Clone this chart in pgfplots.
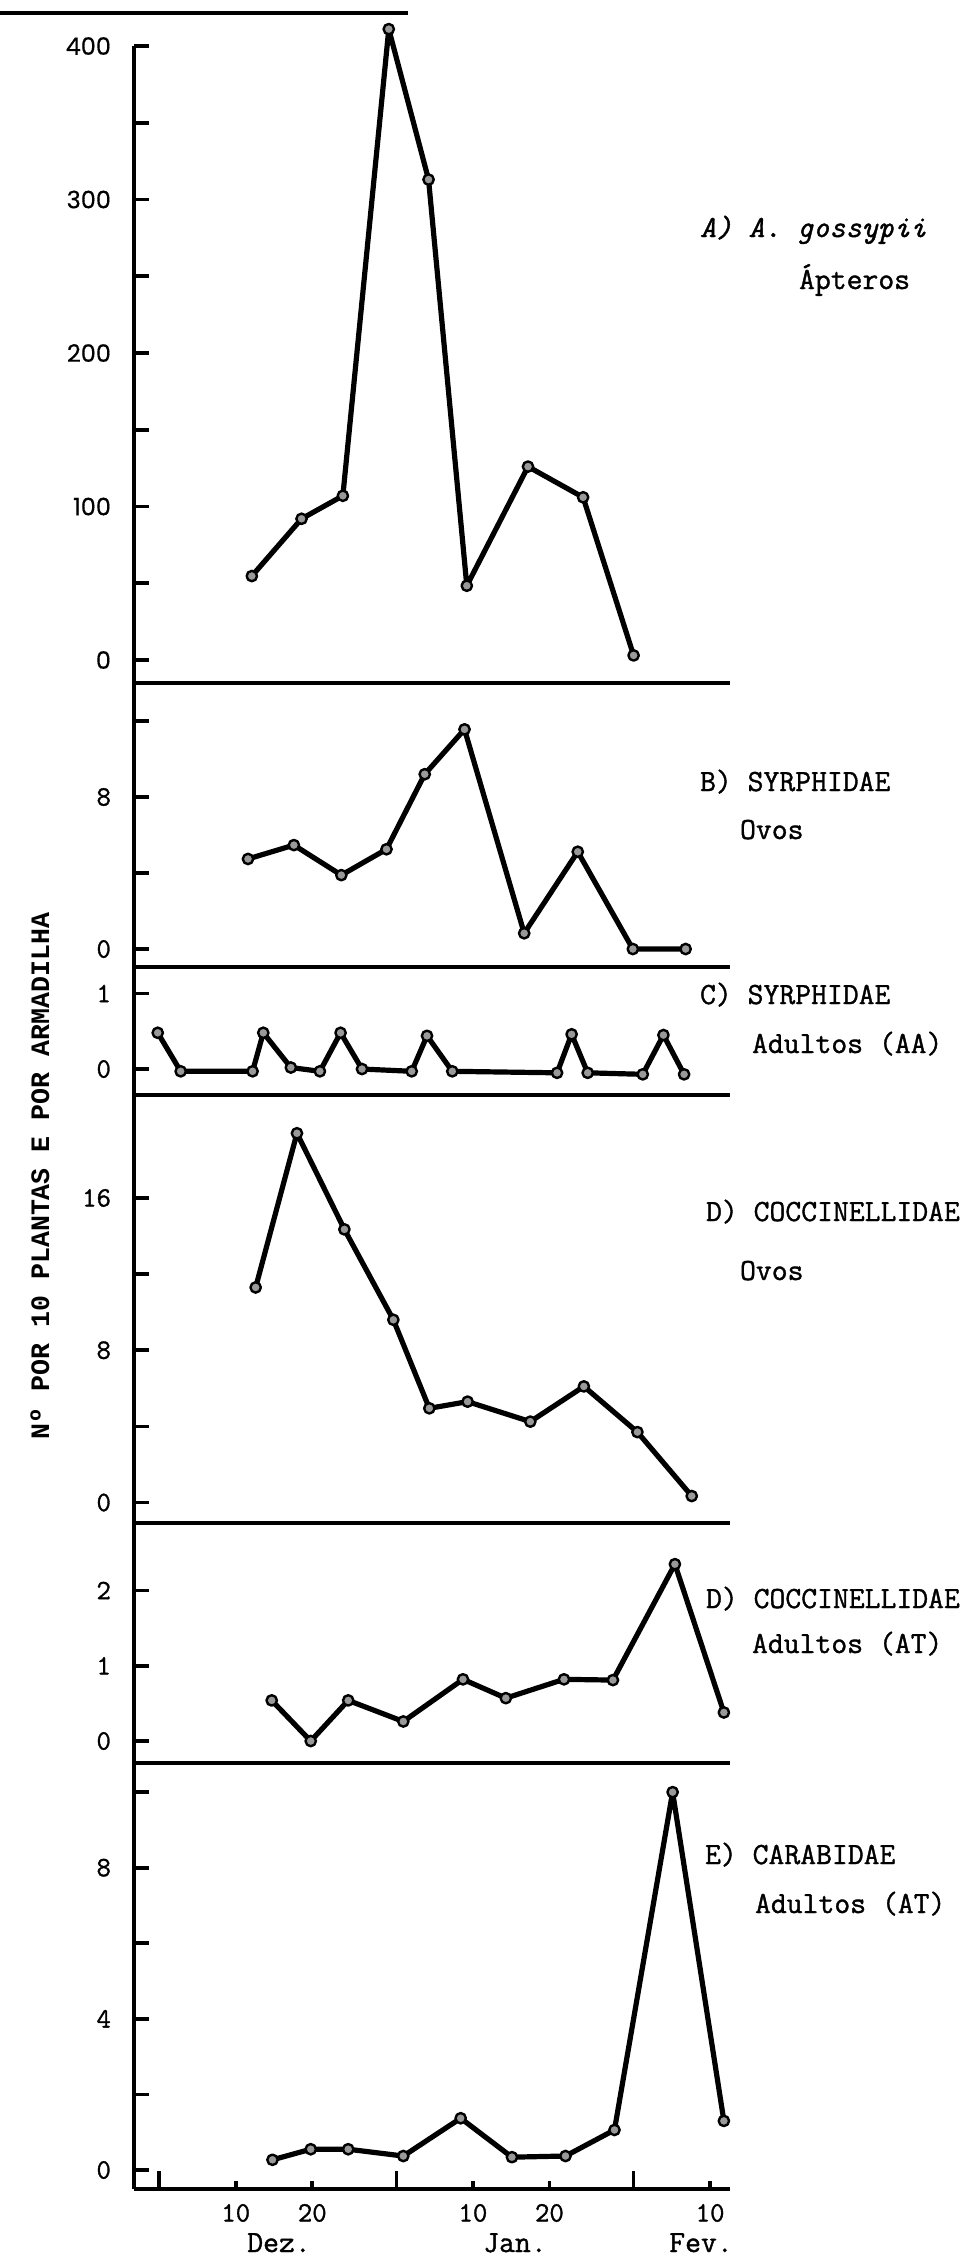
\documentclass[border=0pt]{standalone}
\usepackage{fontspec}
\usepackage{pgfplots}
\pgfplotsset{compat=1.18}
\setmainfont{Liberation Mono}
\newfontfamily\poppins{Poppins}[FakeBold=0.4]
\newfontfamily\lmtt{Latin Modern Mono}[FakeBold=1.2]
\newcommand\lab{\lmtt\fontsize{15.4}{18}\selectfont}
\newcommand\tkf{\lmtt\fontsize{14}{16}\selectfont}
\pgfplotsset{
 panel/.style={
  scale only axis, width=298pt, xmin=-3.3, xmax=74.6,
  anchor=south west,
  axis lines*=left,
  axis line style={line width=2.1pt,-},
  clip=false,
  xtick=\empty,
  tick align=inside,
  major tick length=7.5pt,
  tick style={line width=1.8pt,black},
  yticklabel style={font=\tkf, xshift=-8pt},
  xticklabel style={font=\tkf, yshift=-4pt},
  every axis plot post/.append style={line width=2.6pt, line join=round, draw=black, mark=*, mark size=2.6pt,
     mark options={fill=black!40, draw=black, line width=1.2pt, solid}},
 },
}
\begin{document}
\begin{tikzpicture}
\path[use as bounding box] (0pt,0pt) rectangle (480.5pt,-1127.5pt);
\draw[line width=1.6pt] (0pt,-6.5pt) -- (204pt,-6.5pt);

% A
\begin{axis}[panel, at={(67pt,-341.5pt)}, height=318.5pt, ymin=-14.98, ymax=400,
  ytick={0,50,...,400}, yticklabels={0,,100,,200,,300,,400},
  yticklabel style={font=\poppins\fontsize{12}{14}\selectfont}]
\addplot coordinates {(12.1,54.7) (18.6,92) (24.0,107) (30.0,411) (35.2,313) (40.2,48.4) (48.2,126) (55.4,106) (62.0,3)};
\end{axis}

% B
\begin{axis}[panel, at={(67pt,-483.5pt)}, height=142pt, ymin=-0.947, ymax=14.0,
  ytick={0,4,8,12}, yticklabels={0,,8,}]
\addplot coordinates {(11.6,4.74) (17.6,5.47) (23.8,3.89) (29.7,5.25) (34.7,9.2) (39.9,11.56) (47.7,0.83) (54.7,5.12) (61.9,0) (68.8,0)};
\end{axis}

% C
\begin{axis}[panel, at={(67pt,-547.5pt)}, height=64pt, ymin=-0.344, ymax=1.351,
  ytick={0,1}, yticklabels={0,1}]
\addplot coordinates {(-0.2,0.48) (2.8,-0.03) (12.2,-0.03) (13.6,0.48) (17.2,0.02) (21.0,-0.03) (23.7,0.48) (26.5,0.0) (33.0,-0.03) (35.0,0.44) (38.3,-0.03) (52.0,-0.05) (53.9,0.46) (56.0,-0.05) (63.2,-0.07) (65.9,0.45) (68.6,-0.07)};
\end{axis}

% D eggs
\begin{axis}[panel, at={(67pt,-761.5pt)}, height=214pt, ymin=-1.077, ymax=21.41,
  ytick={0,4,8,12,16}, yticklabels={0,,8,,16}]
\addplot coordinates {(12.6,11.3) (18.0,19.4) (24.2,14.35) (30.6,9.6) (35.3,4.95) (40.3,5.3) (48.5,4.25) (55.5,6.1) (62.5,3.7) (69.6,0.34)};
\end{axis}

% D adults
\begin{axis}[panel, at={(67pt,-881.5pt)}, height=120pt, ymin=-0.292, ymax=2.897,
  ytick={0,1,2}, yticklabels={0,1,2}]
\addplot coordinates {(14.7,0.54) (19.8,0) (24.7,0.54) (31.9,0.26) (39.7,0.82) (45.3,0.57) (52.9,0.82) (59.3,0.81) (67.4,2.35) (73.8,0.38)};
\end{axis}

% E
\begin{axis}[panel, at={(67pt,-1094.5pt)}, height=213pt, ymin=-0.503, ymax=10.77,
  major tick length=4pt,
  xtick={10,20,41,51,72}, xticklabels={10,20,10,20,10},
  ytick=\empty,
  extra y ticks={0,2,4,6,8,10}, extra y tick labels={0,,4,,8,},
  extra y tick style={major tick length=7.5pt},
  extra x ticks={0,31,62}, extra x tick labels={},
  extra x tick style={major tick length=9pt}]
\addplot coordinates {(14.8,0.27) (19.8,0.55) (24.7,0.55) (31.9,0.37) (39.4,1.37) (46.1,0.34) (53.1,0.37) (59.5,1.06) (67.1,10.0) (73.8,1.3)};
\end{axis}

% labels
\node[anchor=base west, font=\lab\itshape] at (346.5pt,-118.5pt) {A) A. gossypii};
\node[anchor=base west, font=\lab] at (396pt,-144.5pt) {Ápteros};
\node[anchor=base west, font=\lab] at (346.5pt,-395.5pt) {B) SYRPHIDAE};
\node[anchor=base west, font=\lab] at (366.5pt,-419.5pt) {Ovos};
\node[anchor=base west, font=\lab] at (346.5pt,-502pt) {C) SYRPHIDAE};
\node[anchor=base west, font=\lab] at (372.5pt,-526.5pt) {Adultos (AA)};
\node[anchor=base west, font=\lab] at (349.5pt,-610.5pt) {D) COCCINELLIDAE};
\node[anchor=base west, font=\lab] at (366.5pt,-640pt) {Ovos};
\node[anchor=base west, font=\lab] at (349.5pt,-804pt) {D) COCCINELLIDAE};
\node[anchor=base west, font=\lab] at (372.5pt,-826.5pt) {Adultos (AT)};
\node[anchor=base west, font=\lab] at (349pt,-932pt) {E) CARABIDAE};
\node[anchor=base west, font=\lab] at (374pt,-956.5pt) {Adultos (AT)};
\node[anchor=base, font=\lab] at (139.5pt,-1126pt) {Dez.};
\node[anchor=base, font=\lab] at (257.5pt,-1126pt) {Jan.};
\node[anchor=base, font=\lab] at (350.5pt,-1126pt) {Fev.};
\node[rotate=90, font=\fontsize{13.3}{15}\selectfont\bfseries] at (20pt,-588pt) {Nº POR 10 PLANTAS E POR ARMADILHA};
\end{tikzpicture}
\end{document}
